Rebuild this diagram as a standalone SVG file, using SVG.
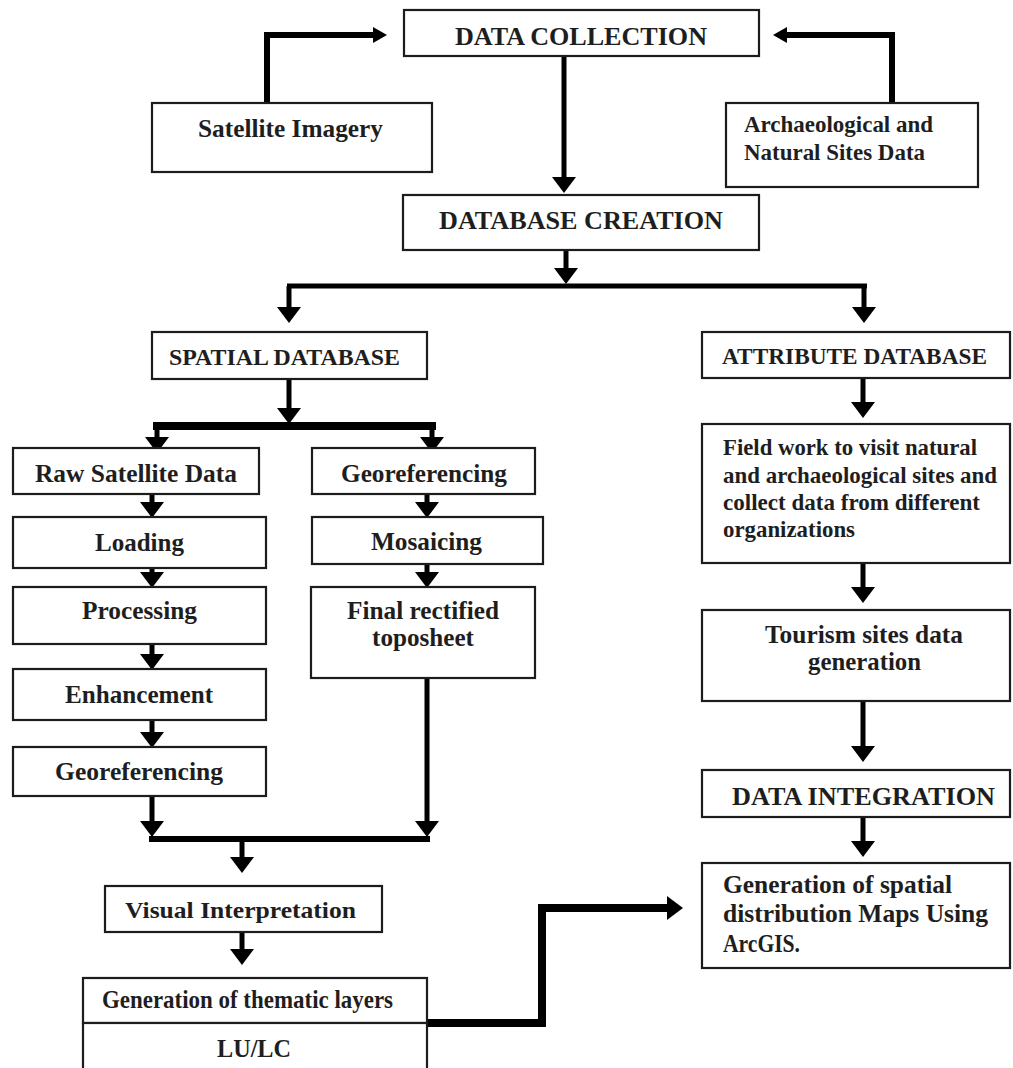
<svg xmlns="http://www.w3.org/2000/svg" width="1013" height="1068" viewBox="0 0 1013 1068">
<style>
.box{fill:#fff;stroke:#1c1c1c;stroke-width:2.2}
.t{font-family:"Liberation Serif","Times New Roman",Times,serif;font-weight:bold;fill:#1e1e1e;font-size:25px}
.s{font-size:23px}
.c{fill:none;stroke:#000;stroke-linecap:butt;stroke-linejoin:miter}
</style>
<defs>
<marker id="hL" markerUnits="userSpaceOnUse" markerWidth="16" markerHeight="24" viewBox="0 0 16 24" refX="0" refY="12" orient="auto"><path d="M0,0 L16,12 L0,24 Z" fill="#000"/></marker>
<marker id="hT" markerUnits="userSpaceOnUse" markerWidth="14" markerHeight="16" viewBox="0 0 14 16" refX="0" refY="8" orient="auto"><path d="M0,0 L14,8 L0,16 Z" fill="#000"/></marker>
</defs>
<rect width="1013" height="1068" fill="#fff"/>

<g id="connectors">
<path class="c" d="M267,103 V35 H373" stroke-width="6" marker-end="url(#hT)"/>
<path class="c" d="M892,103 V35 H787" stroke-width="6" marker-end="url(#hT)"/>
<path class="c" d="M564,56 V177" stroke-width="5" marker-end="url(#hL)"/>
<path class="c" d="M566,250 V268" stroke-width="5" marker-end="url(#hL)"/>
<path class="c" d="M287,286 H867" stroke-width="5"/>
<path class="c" d="M289,286 V307" stroke-width="5" marker-end="url(#hL)"/>
<path class="c" d="M864,286 V307" stroke-width="5" marker-end="url(#hL)"/>
<path class="c" d="M289,379 V408" stroke-width="5" marker-end="url(#hL)"/>
<path class="c" d="M153,426 H436" stroke-width="8"/>
<path class="c" d="M157,426 V437" stroke-width="5" marker-end="url(#hL)"/>
<path class="c" d="M432,426 V437" stroke-width="5" marker-end="url(#hL)"/>
<path class="c" d="M152,494 V502" stroke-width="5" marker-end="url(#hL)"/>
<path class="c" d="M152,568 V572" stroke-width="5" marker-end="url(#hL)"/>
<path class="c" d="M152,644 V654" stroke-width="5" marker-end="url(#hL)"/>
<path class="c" d="M152,720 V732" stroke-width="5" marker-end="url(#hL)"/>
<path class="c" d="M427,494 V502" stroke-width="5" marker-end="url(#hL)"/>
<path class="c" d="M427,564 V572" stroke-width="5" marker-end="url(#hL)"/>
<path class="c" d="M152,796 V821" stroke-width="5" marker-end="url(#hL)"/>
<path class="c" d="M427,678 V821" stroke-width="5" marker-end="url(#hL)"/>
<path class="c" d="M149,839 H430" stroke-width="6"/>
<path class="c" d="M242,839 V857" stroke-width="5" marker-end="url(#hL)"/>
<path class="c" d="M242,932 V949" stroke-width="5" marker-end="url(#hL)"/>
<path class="c" d="M427,1023 H542 V908 H667" stroke-width="8" marker-end="url(#hL)"/>
<path class="c" d="M863,378 V402" stroke-width="5" marker-end="url(#hL)"/>
<path class="c" d="M863,563 V587" stroke-width="5" marker-end="url(#hL)"/>
<path class="c" d="M863,701 V746" stroke-width="5" marker-end="url(#hL)"/>
<path class="c" d="M863,817 V841" stroke-width="5" marker-end="url(#hL)"/>
</g>

<g id="data-collection"><rect class="box" x="404" y="10" width="355" height="46"/><text class="t" x="455" y="45" textLength="252" lengthAdjust="spacingAndGlyphs">DATA COLLECTION</text></g>
<g id="satellite-imagery"><rect class="box" x="152" y="103" width="280" height="69"/><text class="t" x="198" y="137" textLength="185" lengthAdjust="spacingAndGlyphs">Satellite Imagery</text></g>
<g id="arch-sites"><rect class="box" x="726" y="103" width="252" height="84"/><text class="t s" x="744" y="132" textLength="189" lengthAdjust="spacingAndGlyphs">Archaeological and</text><text class="t s" x="744" y="160" textLength="181" lengthAdjust="spacingAndGlyphs">Natural Sites Data</text></g>
<g id="database-creation"><rect class="box" x="403" y="195" width="356" height="55"/><text class="t" x="439" y="229" textLength="284" lengthAdjust="spacingAndGlyphs">DATABASE CREATION</text></g>
<g id="spatial-database"><rect class="box" x="152" y="332" width="275" height="47"/><text class="t s" x="169" y="365" textLength="231" lengthAdjust="spacingAndGlyphs">SPATIAL DATABASE</text></g>
<g id="attribute-database"><rect class="box" x="702" y="332" width="308" height="46"/><text class="t s" x="722" y="364" textLength="265" lengthAdjust="spacingAndGlyphs">ATTRIBUTE DATABASE</text></g>
<g id="raw-satellite"><rect class="box" x="13" y="448" width="246" height="46"/><text class="t" x="35" y="482" textLength="202" lengthAdjust="spacingAndGlyphs">Raw Satellite Data</text></g>
<g id="georef-2"><rect class="box" x="312" y="448" width="223" height="46"/><text class="t" x="341" y="482" textLength="166" lengthAdjust="spacingAndGlyphs">Georeferencing</text></g>
<g id="loading"><rect class="box" x="13" y="517" width="253" height="51"/><text class="t" x="95" y="551" textLength="89" lengthAdjust="spacingAndGlyphs">Loading</text></g>
<g id="processing"><rect class="box" x="13" y="587" width="253" height="57"/><text class="t" x="82" y="619" textLength="115" lengthAdjust="spacingAndGlyphs">Processing</text></g>
<g id="enhancement"><rect class="box" x="13" y="669" width="253" height="51"/><text class="t" x="65" y="703" textLength="148" lengthAdjust="spacingAndGlyphs">Enhancement</text></g>
<g id="georef-1"><rect class="box" x="13" y="747" width="253" height="49"/><text class="t" x="55" y="780" textLength="168" lengthAdjust="spacingAndGlyphs">Georeferencing</text></g>
<g id="mosaicing"><rect class="box" x="312" y="517" width="231" height="47"/><text class="t" x="371" y="550" textLength="111" lengthAdjust="spacingAndGlyphs">Mosaicing</text></g>
<g id="final-toposheet"><rect class="box" x="311" y="587" width="224" height="91"/><text class="t" x="347" y="619" textLength="152" lengthAdjust="spacingAndGlyphs">Final rectified</text><text class="t" x="372" y="646" textLength="102" lengthAdjust="spacingAndGlyphs">toposheet</text></g>
<g id="field-work"><rect class="box" x="702" y="424" width="308" height="139"/>
<text class="t s" x="723" y="455" textLength="254" lengthAdjust="spacingAndGlyphs">Field work to visit natural</text>
<text class="t s" x="723" y="483" textLength="274" lengthAdjust="spacingAndGlyphs">and archaeological sites and</text>
<text class="t s" x="723" y="510" textLength="257" lengthAdjust="spacingAndGlyphs">collect data from different</text>
<text class="t s" x="723" y="537" textLength="132" lengthAdjust="spacingAndGlyphs">organizations</text></g>
<g id="tourism"><rect class="box" x="702" y="610" width="308" height="91"/><text class="t" x="765" y="643" textLength="198" lengthAdjust="spacingAndGlyphs">Tourism sites data</text><text class="t" x="808" y="670" textLength="113" lengthAdjust="spacingAndGlyphs">generation</text></g>
<g id="data-integration"><rect class="box" x="702" y="770" width="308" height="47"/><text class="t" x="732" y="805" textLength="263" lengthAdjust="spacingAndGlyphs">DATA INTEGRATION</text></g>
<g id="spatial-maps"><rect class="box" x="702" y="863" width="308" height="105"/>
<text class="t" x="723" y="893" textLength="229" lengthAdjust="spacingAndGlyphs">Generation of spatial</text>
<text class="t" x="723" y="922" textLength="265" lengthAdjust="spacingAndGlyphs">distribution Maps Using</text>
<text class="t" x="723" y="952" textLength="77" lengthAdjust="spacingAndGlyphs">ArcGIS.</text></g>
<g id="visual-interpretation"><rect class="box" x="105" y="886" width="277" height="46"/><text class="t s" x="125" y="918" textLength="231" lengthAdjust="spacingAndGlyphs">Visual Interpretation</text></g>
<g id="thematic-layers"><rect class="box" x="83" y="978" width="344" height="45"/><text class="t" x="102" y="1008" font-size="21" textLength="291" lengthAdjust="spacingAndGlyphs">Generation of thematic layers</text></g>
<g id="lulc"><rect class="box" x="83" y="1023" width="344" height="52"/><text class="t" x="217" y="1057" textLength="74" lengthAdjust="spacingAndGlyphs">LU/LC</text></g>
</svg>
